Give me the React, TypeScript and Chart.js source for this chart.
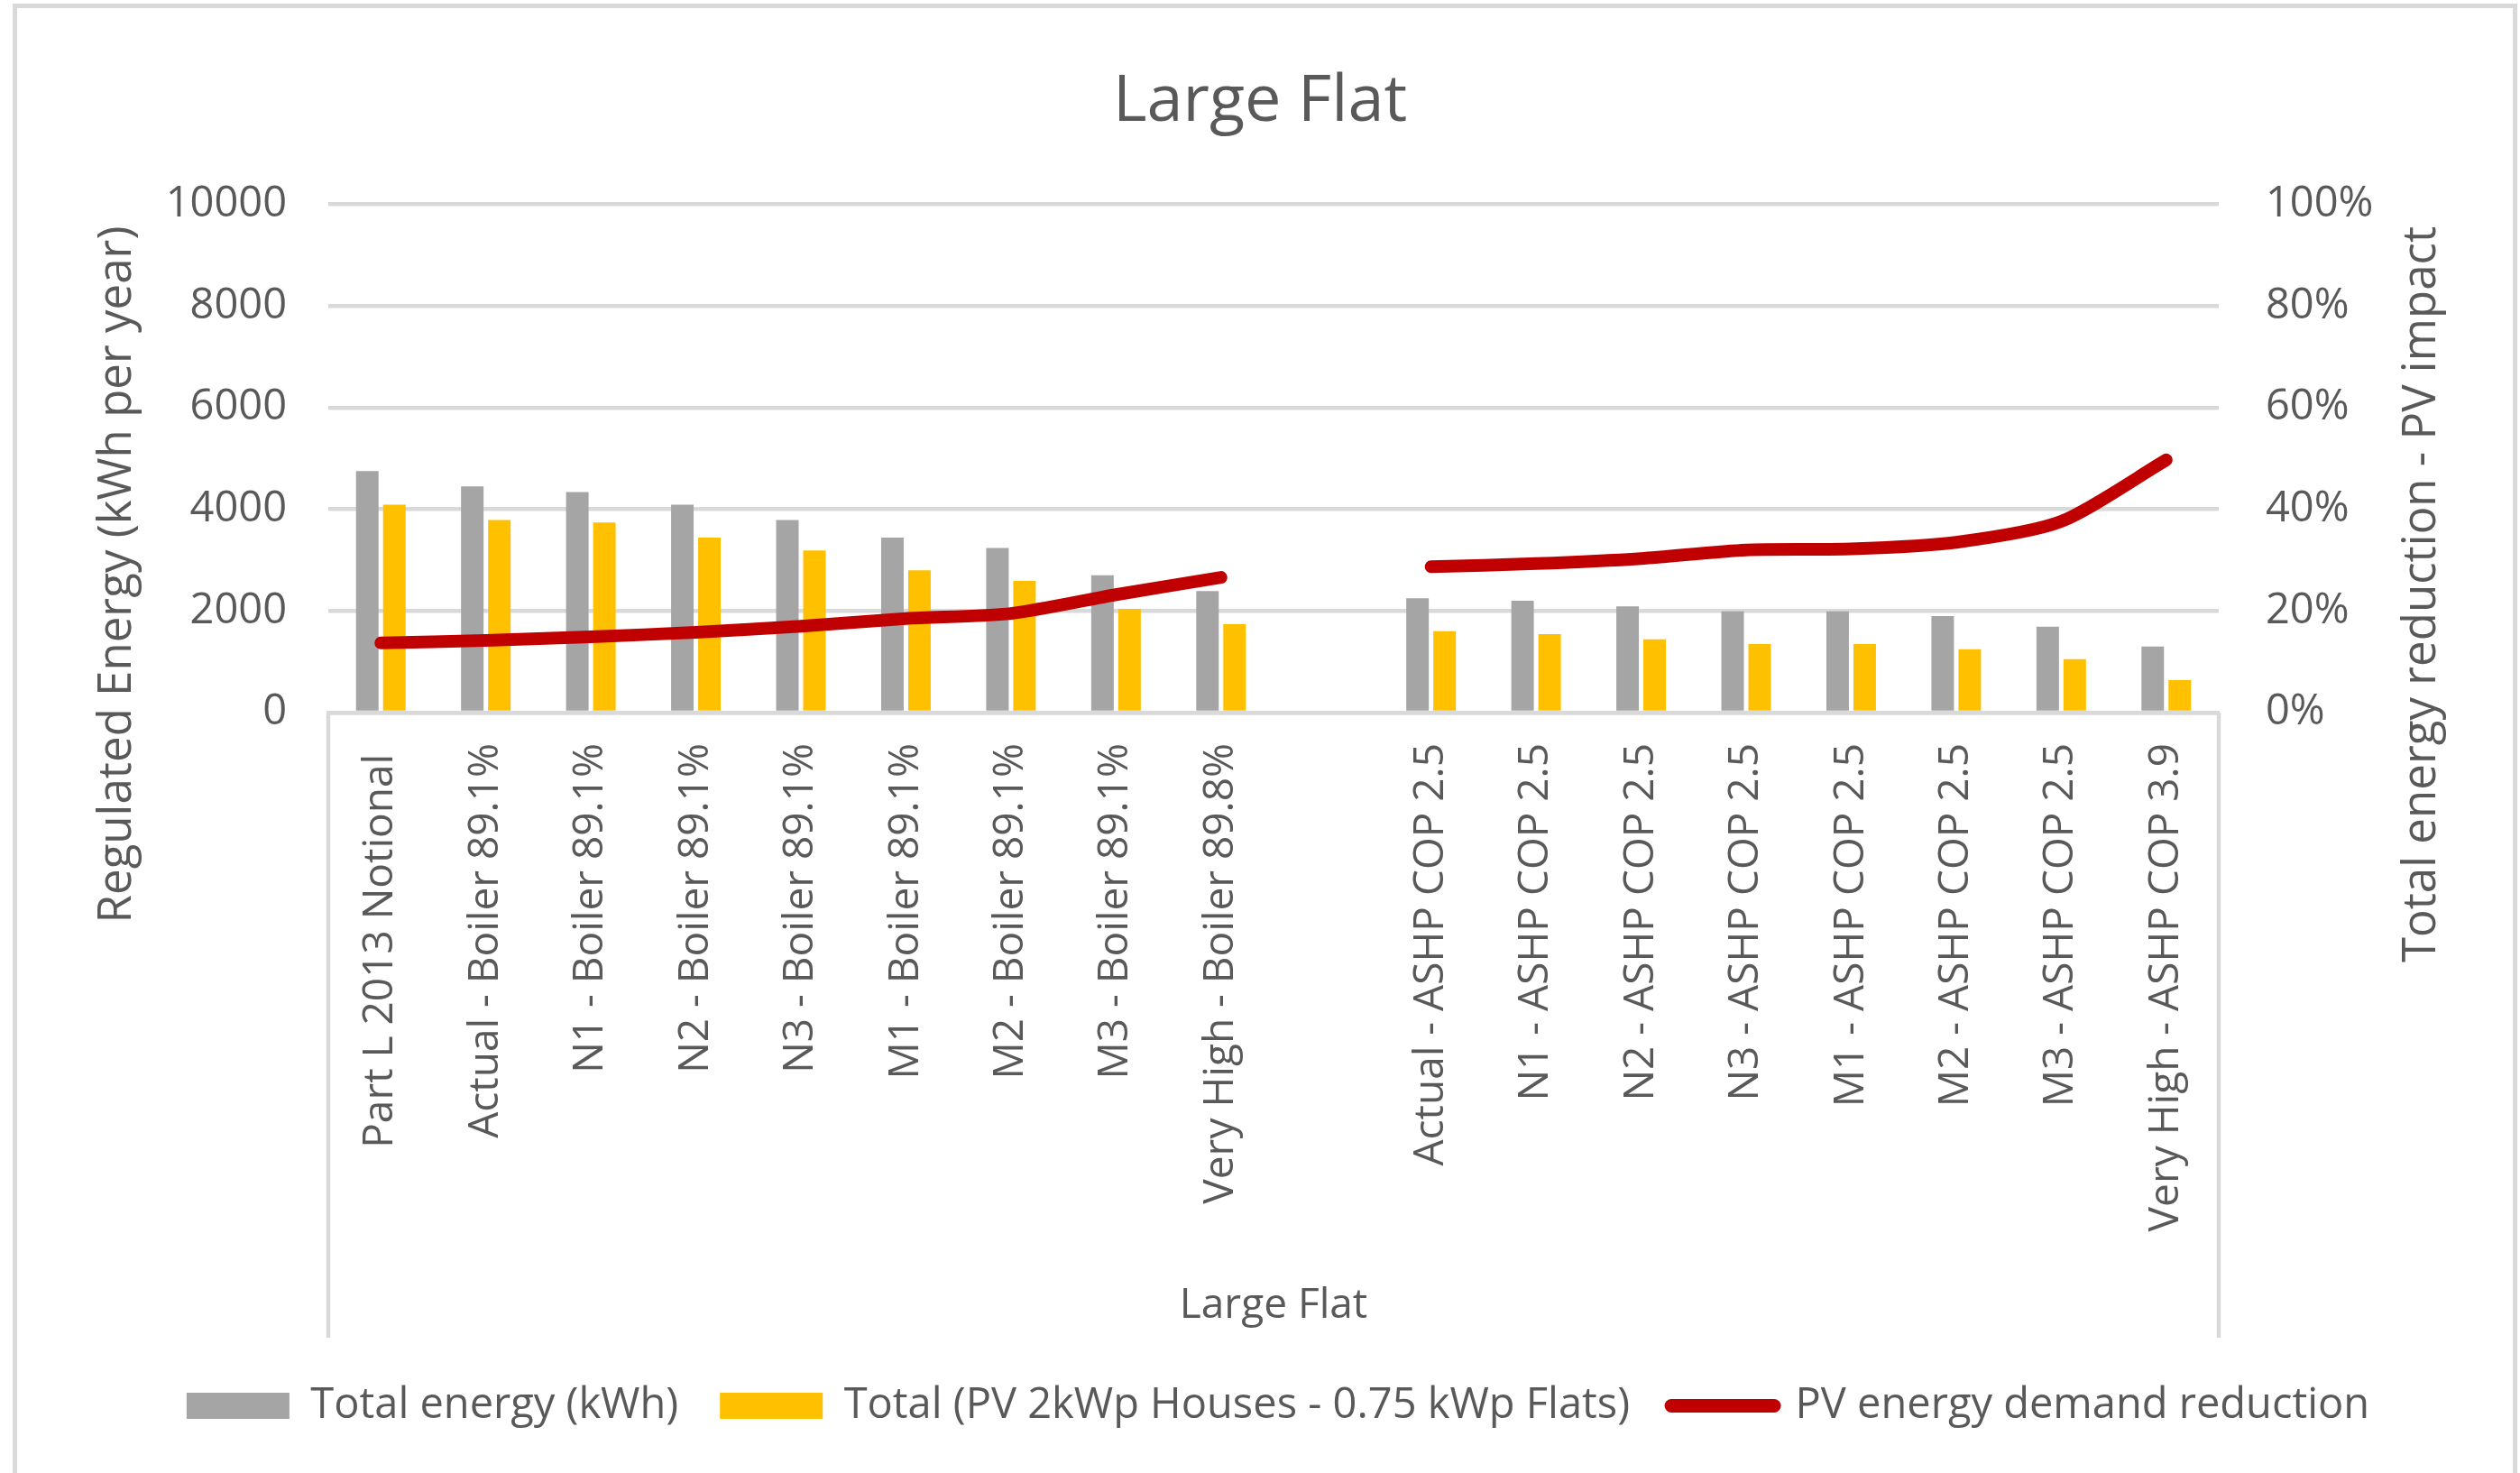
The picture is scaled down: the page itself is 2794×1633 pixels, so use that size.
import React, { useEffect, useRef } from 'react';
import { Chart, registerables } from 'chart.js';

Chart.register(...registerables);

const FONT = '"Open Sans", "Liberation Sans", sans-serif';
const TEXT = '#595959';
const GRID = '#D9D9D9';

const chartTitle = 'Large Flat';
const groupLabel = 'Large Flat';
const leftAxisTitle = 'Regulated Energy (kWh per year)';
const rightAxisTitle = 'Total energy reduction - PV impact';

const categories = [
  'Part L 2013 Notional ',
  'Actual - Boiler 89.1%',
  'N1 - Boiler 89.1%',
  'N2 - Boiler 89.1%',
  'N3 - Boiler 89.1%',
  'M1 - Boiler 89.1%',
  'M2 - Boiler 89.1%',
  'M3 - Boiler 89.1%',
  'Very High - Boiler 89.8%',
  '',
  'Actual - ASHP COP 2.5',
  'N1 - ASHP COP 2.5',
  'N2 - ASHP COP 2.5',
  'N3 - ASHP COP 2.5',
  'M1 - ASHP COP 2.5',
  'M2 - ASHP COP 2.5',
  'M3 - ASHP COP 2.5',
  'Very High - ASHP COP 3.9',
];

const seriesNames = [
  'Total energy (kWh)',
  'Total (PV 2kWp Houses - 0.75 kWp Flats)',
  'PV energy demand reduction',
];

const totalEnergy = [4750, 4450, 4340, 4090, 3790, 3440, 3240, 2700, 2390, null, 2250, 2200, 2090, 1990, 1990, 1900, 1690, 1300];
const totalWithPV = [4090, 3790, 3740, 3440, 3190, 2800, 2590, 2040, 1740, null, 1600, 1545, 1440, 1350, 1350, 1245, 1050, 640];
const pvReduction = [13.7, 14.2, 14.9, 15.8, 17.0, 18.5, 19.5, 23.2, 26.6, null, 28.7, 29.3, 30.3, 32.0, 32.2, 33.5, 37.6, 49.7];

const leftAxis = { min: 0, max: 10000, step: 2000 };
const rightAxis = { min: 0, max: 100, step: 20 };

const decorPlugin = {
  id: 'decor',
  afterLayout(chart: any) {
    const lg = chart.legend;
    if (lg) {
      lg.left += 20;
      lg.right += 20;
    }
  },
  afterDraw(chart: any) {
    const { ctx, chartArea } = chart;
    const xs = chart.scales.x;
    ctx.save();
    // category group dividers
    ctx.strokeStyle = GRID;
    ctx.lineWidth = 4.5;
    ctx.beginPath();
    ctx.moveTo(chartArea.left, chartArea.bottom);
    ctx.lineTo(chartArea.left, xs.bottom - 6);
    ctx.moveTo(chartArea.right, chartArea.bottom);
    ctx.lineTo(chartArea.right, xs.bottom - 6);
    ctx.stroke();

    ctx.fillStyle = TEXT;
    ctx.textAlign = 'center';
    ctx.textBaseline = 'middle';
    ctx.font = `46px ${FONT}`;
    ctx.fillText(groupLabel, (chartArea.left + chartArea.right) / 2, xs.bottom - 41);

    // axis titles
    ctx.font = `51px ${FONT}`;
    ctx.save();
    ctx.translate(chartArea.left - 234, 637);
    ctx.rotate(-Math.PI / 2);
    ctx.fillText(leftAxisTitle, 0, 0);
    ctx.restore();

    ctx.save();
    ctx.translate(chartArea.right + 225, 659);
    ctx.rotate(-Math.PI / 2);
    ctx.fillText(rightAxisTitle, 0, 0);
    ctx.restore();
    ctx.restore();
  },
};

export default function App() {
  const ref = useRef<HTMLCanvasElement | null>(null);

  useEffect(() => {
    if (!ref.current) return;
    const chart = new Chart(ref.current, {
      type: 'bar',
      data: {
        labels: categories,
        datasets: [
          {
            type: 'bar',
            label: seriesNames[0],
            data: totalEnergy,
            backgroundColor: '#A5A5A5',
            categoryPercentage: 0.515,
            barPercentage: 0.833,
            yAxisID: 'y',
            order: 1,
          },
          {
            type: 'bar',
            label: seriesNames[1],
            data: totalWithPV,
            backgroundColor: '#FFC000',
            categoryPercentage: 0.515,
            barPercentage: 0.833,
            yAxisID: 'y',
            order: 1,
          },
          {
            type: 'line',
            label: seriesNames[2],
            data: pvReduction,
            borderColor: '#C00000',
            backgroundColor: '#C00000',
            borderWidth: 14,
            pointRadius: 0,
            tension: 0.25,
            borderCapStyle: 'round',
            borderJoinStyle: 'round',
            spanGaps: false,
            yAxisID: 'y1',
            order: 0,
          },
        ] as any,
      },
      options: {
        responsive: false,
        animation: false,
        layout: { padding: { top: 0, left: 0, right: 0, bottom: 41 } },
        font: { family: FONT },
        plugins: {
          title: {
            display: true,
            text: chartTitle,
            color: TEXT,
            font: { size: 72, weight: 'normal', family: FONT },
            padding: { top: 70, bottom: 70 },
          },
          legend: {
            position: 'bottom',
            labels: {
              usePointStyle: true,
              pointStyleWidth: 114,
              boxHeight: 29,
              padding: 46,
              color: TEXT,
              font: { size: 47, family: FONT },
              generateLabels: (c: any) =>
                c.data.datasets.map((ds: any, i: number) => {
                  const isLine = ds.type === 'line';
                  const col = isLine ? ds.borderColor : ds.backgroundColor;
                  return {
                    text: ds.label,
                    fillStyle: col,
                    strokeStyle: col,
                    lineWidth: isLine ? 15 : 0,
                    lineCap: 'round',
                    pointStyle: isLine ? 'line' : 'rect',
                    hidden: false,
                    datasetIndex: i,
                    fontColor: TEXT,
                  };
                }),
            },
          },
          tooltip: { enabled: false },
        },
        scales: {
          x: {
            type: 'category',
            grid: { display: false, drawTicks: false },
            border: { display: true, color: GRID, width: 4.5 },
            ticks: {
              minRotation: 90,
              maxRotation: 90,
              autoSkip: false,
              padding: 34,
              color: TEXT,
              font: { size: 46, family: FONT },
            },
            afterFit: (s: any) => {
              s.height = 699;
            },
          },
          y: {
            position: 'left',
            min: leftAxis.min,
            max: leftAxis.max,
            ticks: {
              stepSize: leftAxis.step,
              padding: 46,
              color: TEXT,
              font: { size: 47, family: FONT },
              callback: (v: any) => String(v),
            },
            grid: { color: GRID, lineWidth: 4.5, drawTicks: false },
            border: { display: false },
            afterFit: (s: any) => {
              s.width = 364;
            },
          },
          y1: {
            position: 'right',
            min: rightAxis.min,
            max: rightAxis.max,
            ticks: {
              stepSize: rightAxis.step,
              padding: 52,
              color: TEXT,
              font: { size: 47, family: FONT },
              callback: (v: any) => `${v}%`,
            },
            grid: { display: false, drawTicks: false },
            border: { display: false },
            afterFit: (s: any) => {
              s.width = 334;
            },
          },
        },
      } as any,
      plugins: [decorPlugin],
    });
    let alive = true;
    if ((document as any).fonts && (document as any).fonts.ready) {
      (document as any).fonts.ready.then(() => {
        if (alive) chart.update();
      });
    }
    return () => {
      alive = false;
      chart.destroy();
    };
  }, []);

  return (
    <div style={{ position: 'fixed', left: 0, top: 0, width: 2794, height: 1633, background: '#fff', overflow: 'hidden' }}>
      <div
        style={{
          position: 'absolute',
          left: 14,
          top: 4,
          width: 2777,
          height: 1700,
          border: `5px solid ${GRID}`,
          boxSizing: 'border-box',
        }}
      />
      <canvas ref={ref} width={2794} height={1633} style={{ position: 'absolute', left: 0, top: 0, width: 2794, height: 1633 }} />
    </div>
  );
}
